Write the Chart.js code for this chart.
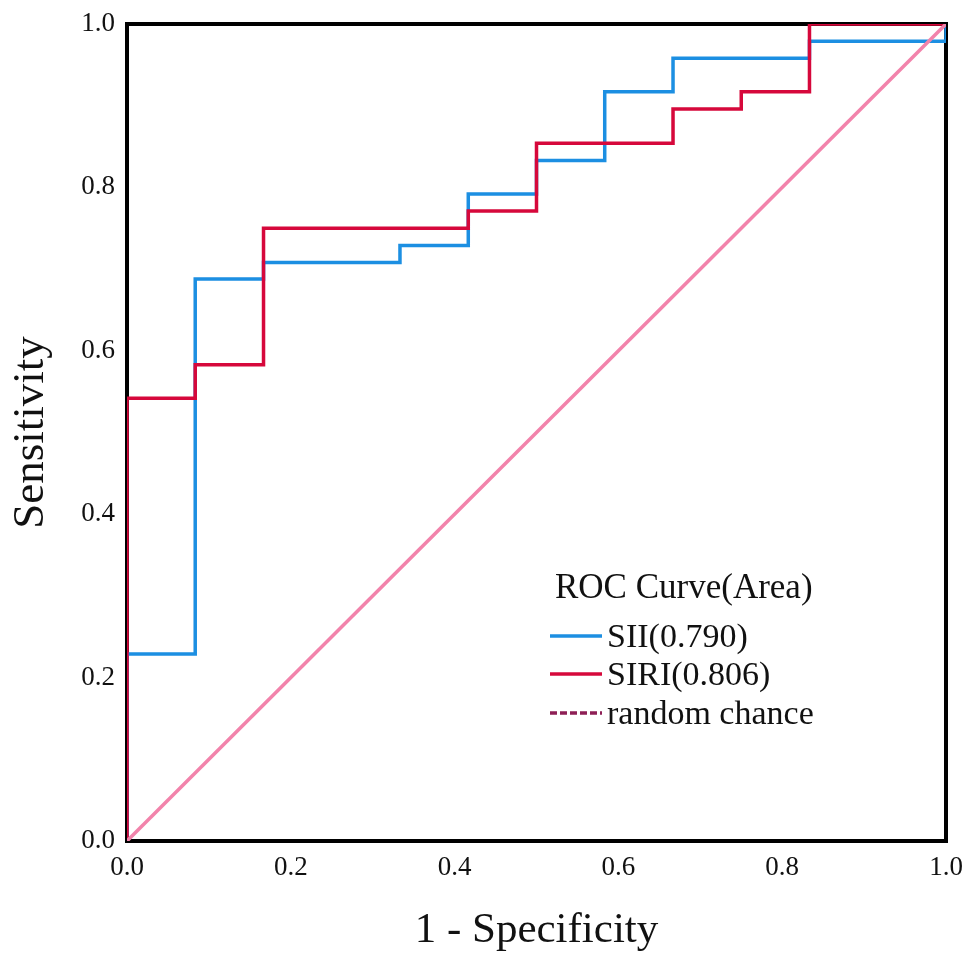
<!DOCTYPE html>
<html>
<head>
<meta charset="utf-8">
<script src="https://cdn.jsdelivr.net/npm/chart.js@4/dist/chart.umd.min.js"></script>
<style>
  html, body { margin: 0; padding: 0; background: #ffffff; }
  #wrap { width: 965px; height: 954px; position: relative; }
</style>
</head>
<body>
<div id="wrap"><canvas id="c"></canvas></div>
<script>
// ---- data ----
const legendTitle = 'ROC Curve(Area)';
const seriesLabels = ['SII(0.790)', 'SIRI(0.806)', 'random chance'];

// SII curve vertices (1 - specificity, sensitivity)
const siiFpr  = [0, 0, 0.0833, 0.1667, 0.3333, 0.4167, 0.5, 0.5833, 0.6667, 0.8333, 1.0];
const siiTpr  = [0, 0.229, 0.688, 0.708, 0.729, 0.792, 0.833, 0.917, 0.958, 0.979, 1.0];

// SIRI curve vertices
const siriFpr = [0, 0, 0.0833, 0.1667, 0.4167, 0.5, 0.6667, 0.75, 0.8333, 1.0];
const siriTpr = [0, 0.542, 0.583, 0.750, 0.771, 0.854, 0.896, 0.917, 1.0, 1.0];

// reference line
const refFpr = [0, 1];
const refTpr = [0, 1];

const xTicks = [0, 0.2, 0.4, 0.6, 0.8, 1.0];
const yTicks = [0, 0.2, 0.4, 0.6, 0.8, 1.0];

// ---- styles ----
const BLUE = '#1c8fe2';
const RED = '#d6083b';
const PINK = '#f283ab';
const MAROON = '#8e1f56';
const FONT = "'Liberation Serif', 'Times New Roman', serif";

const toPts = (xs, ys) => xs.map((x, i) => ({ x: x, y: ys[i] }));

const framePlugin = {
  id: 'frame',
  beforeDatasetsDraw(chart) {
    const { ctx, chartArea: a } = chart;
    ctx.save();
    ctx.strokeStyle = '#000000';
    ctx.lineWidth = 4;
    ctx.strokeRect(a.left, a.top, a.right - a.left, a.bottom - a.top);
    ctx.restore();
  }
};

const legendSamples = [
  { color: BLUE, dash: [] },
  { color: RED, dash: [] },
  { color: MAROON, dash: [7, 3] }
];

const legendPlugin = {
  id: 'innerLegend',
  afterDraw(chart) {
    const { ctx } = chart;
    ctx.save();
    ctx.fillStyle = '#111111';
    ctx.textBaseline = 'middle';
    ctx.textAlign = 'left';
    ctx.font = "35px " + FONT;
    ctx.fillText(legendTitle, 555, 589);
    ctx.font = "34px " + FONT;
    const rows = [636, 674, 713];
    chart.data.datasets.forEach((ds, i) => {
      const s = legendSamples[i];
      ctx.beginPath();
      ctx.strokeStyle = s.color;
      ctx.lineWidth = 3.5;
      ctx.setLineDash(s.dash);
      ctx.moveTo(550, rows[i]);
      ctx.lineTo(602, rows[i]);
      ctx.stroke();
      ctx.setLineDash([]);
      ctx.fillText(ds.label, 607, rows[i] + 2);
    });
    ctx.restore();
  }
};

new Chart(document.getElementById('c'), {
  type: 'line',
  data: {
    datasets: [
      {
        label: seriesLabels[0],
        data: toPts(siiFpr, siiTpr),
        borderColor: BLUE,
        borderWidth: 3.5,
        stepped: 'before',
        pointRadius: 0,
        fill: false,
        order: 2
      },
      {
        label: seriesLabels[1],
        data: toPts(siriFpr, siriTpr),
        borderColor: RED,
        borderWidth: 3.5,
        stepped: 'before',
        pointRadius: 0,
        fill: false,
        order: 1
      },
      {
        label: seriesLabels[2],
        data: toPts(refFpr, refTpr),
        borderColor: PINK,
        borderWidth: 3.5,
        pointRadius: 0,
        fill: false,
        order: 0
      }
    ]
  },
  options: {
    responsive: true,
    maintainAspectRatio: false,
    animation: false,
    devicePixelRatio: 1,
    layout: { padding: { top: 24, right: 19, bottom: 0, left: 0 } },
    plugins: {
      legend: { display: false },
      tooltip: { enabled: false }
    },
    scales: {
      x: {
        type: 'linear',
        min: 0,
        max: 1,
        grid: { display: false, drawTicks: false },
        border: { display: false },
        afterBuildTicks(scale) { scale.ticks = xTicks.map(v => ({ value: v })); },
        afterFit(scale) { scale.height = 113; scale.paddingLeft = 0; scale.paddingRight = 0; },
        ticks: {
          color: '#111111',
          padding: 11,
          font: { family: FONT, size: 27 },
          callback: v => Number(v).toFixed(1)
        },
        title: {
          display: true,
          text: '1 - Specificity',
          color: '#111111',
          font: { family: FONT, size: 43, lineHeight: 1 },
          padding: { top: 0, bottom: 2 }
        }
      },
      y: {
        type: 'linear',
        min: 0,
        max: 1,
        grid: { display: false, drawTicks: false },
        border: { display: false },
        afterBuildTicks(scale) { scale.ticks = yTicks.map(v => ({ value: v })); },
        afterFit(scale) { scale.width = 127; scale.paddingTop = 0; scale.paddingBottom = 0; },
        ticks: {
          color: '#111111',
          padding: 12,
          font: { family: FONT, size: 27 },
          callback: v => Number(v).toFixed(1)
        },
        title: {
          display: true,
          text: 'Sensitivity',
          color: '#111111',
          font: { family: FONT, size: 45, lineHeight: 1 },
          padding: { top: 9, bottom: 0 }
        }
      }
    }
  },
  plugins: [framePlugin, legendPlugin]
});
</script>
</body>
</html>
